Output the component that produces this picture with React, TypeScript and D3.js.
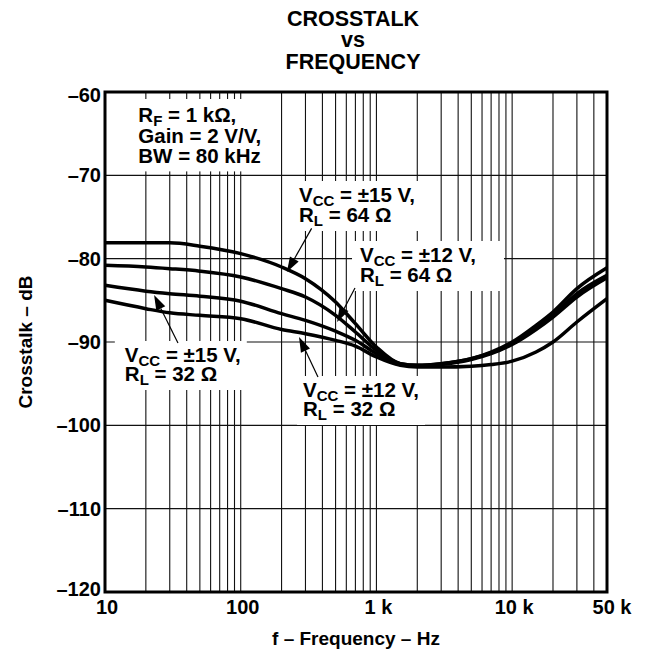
import React, { useEffect, useRef } from 'react';
import * as d3 from 'd3';

// frequency points (Hz)
const freqs = [10, 20, 30, 50, 100, 200, 300, 500, 700, 1000, 1500, 2000, 3000, 5000, 7000, 10000, 15000, 20000, 30000, 50000];

// crosstalk (dB) per supply / load
const vcc15rl64 = [-78.1, -78.1, -78.1, -78.5, -79.4, -81.0, -82.4, -85.2, -87.8, -90.6, -92.6, -92.8, -92.6, -92.0, -91.2, -90.0, -88.0, -86.4, -83.6, -81.1];
const vcc12rl64 = [-80.8, -81.0, -81.2, -81.5, -82.2, -83.6, -84.6, -86.8, -88.8, -91.0, -92.6, -92.8, -92.6, -92.0, -91.3, -90.2, -88.3, -86.8, -84.2, -82.0];
const vcc15rl32 = [-83.2, -83.9, -84.2, -84.5, -85.1, -86.6, -87.4, -88.7, -89.8, -91.4, -92.7, -92.9, -92.7, -92.1, -91.4, -90.3, -88.5, -87.0, -84.6, -82.3];
const vcc12rl32 = [-85.0, -86.0, -86.5, -86.8, -87.2, -88.5, -89.0, -89.8, -90.5, -91.8, -92.8, -93.0, -93.0, -92.9, -92.7, -92.3, -91.2, -90.0, -87.6, -84.8];

const yTicks = [-60, -70, -80, -90, -100, -110, -120];
const xTickValues = [10, 100, 1000, 10000, 50000];
const xTickLabels = ['10', '100', '1 k', '10 k', '50 k'];

const FONT = "'Liberation Sans', Arial, Helvetica, sans-serif";

const App = () => {
  const chartRef = useRef(null);

  useEffect(() => {
    if (!chartRef.current) return;
    d3.select(chartRef.current).selectAll('*').remove();

    const width = 646;
    const height = 654;
    const margin = { top: 92, right: 39, bottom: 62, left: 105 };
    const innerW = width - margin.left - margin.right;
    const innerH = height - margin.top - margin.bottom;

    const x = d3.scaleLog().domain([10, 50000]).range([margin.left, margin.left + innerW]);
    const y = d3.scaleLinear().domain([-120, -60]).range([margin.top + innerH, margin.top]);

    const svg = d3.select(chartRef.current)
      .append('svg')
      .attr('width', width)
      .attr('height', height)
      .style('display', 'block')
      .style('background', 'white')
      .style('font-family', FONT)
      .style('font-weight', 'bold');

    // grid: every 1-2-3..9 step in each decade
    const gridFreqs = [];
    for (let dec = 10; dec < 50000; dec *= 10) {
      for (let k = 1; k < 10; k++) {
        const f = dec * k;
        if (f > 10 && f < 50000) gridFreqs.push(f);
      }
    }
    svg.append('g')
      .selectAll('line')
      .data(gridFreqs)
      .enter()
      .append('line')
      .attr('x1', d => x(d))
      .attr('x2', d => x(d))
      .attr('y1', y(-60))
      .attr('y2', y(-120))
      .style('stroke', '#111')
      .style('stroke-width', 1.1);

    svg.append('g')
      .selectAll('line')
      .data(yTicks.slice(1, -1))
      .enter()
      .append('line')
      .attr('x1', x(10))
      .attr('x2', x(50000))
      .attr('y1', d => y(d))
      .attr('y2', d => y(d))
      .style('stroke', '#111')
      .style('stroke-width', 1.1);

    // curves
    const series = [vcc15rl64, vcc12rl64, vcc15rl32, vcc12rl32];
    const line = d3.line()
      .x(d => x(d[0]))
      .y(d => y(d[1]))
      .curve(d3.curveMonotoneX);
    series.forEach(vals => {
      svg.append('path')
        .attr('d', line(freqs.map((f, i) => [f, vals[i]])))
        .style('fill', 'none')
        .style('stroke', 'black')
        .style('stroke-width', 3.5);
    });

    // border
    svg.append('rect')
      .attr('x', x(10))
      .attr('y', y(-60))
      .attr('width', x(50000) - x(10))
      .attr('height', y(-120) - y(-60))
      .style('fill', 'none')
      .style('stroke', 'black')
      .style('stroke-width', 3);

    // annotation boxes with white backing
    const drawLabel = (fx, db, lines, lineH, pad) => {
      const g = svg.append('g');
      const bg = g.append('rect').style('fill', 'white');
      lines.forEach((segs, li) => {
        const t = g.append('text')
          .attr('x', x(fx))
          .attr('y', y(db) + li * lineH)
          .style('font-size', '20.5px');
        let shifted = false;
        segs.forEach(([s, sub]) => {
          const ts = t.append('tspan').text(s);
          if (sub && !shifted) {
            ts.attr('dy', 4).style('font-size', '15px');
            shifted = true;
          } else if (!sub && shifted) {
            ts.attr('dy', -4);
            shifted = false;
          }
        });
      });
      const bb = g.node().getBBox();
      bg.attr('x', bb.x - pad[3])
        .attr('y', bb.y - pad[0])
        .attr('width', bb.width + pad[1] + pad[3])
        .attr('height', bb.height + pad[0] + pad[2]);
    };

    drawLabel(17.6, -63.6, [
      [['R', false], ['F', true], [' = 1 kΩ,', false]],
      [['Gain = 2 V/V,', false]],
      [['BW = 80 kHz', false]]
    ], 20.7, [4, 6, 4, 6]);

    drawLabel(269, -73.2, [
      [['V', false], ['CC', true], [' = ±15 V,', false]],
      [['R', false], ['L', true], [' = 64 Ω', false]]
    ], 20, [2, 24, 2, 5]);

    drawLabel(757, -80.4, [
      [['V', false], ['CC', true], [' = ±12 V,', false]],
      [['R', false], ['L', true], [' = 64 Ω', false]]
    ], 20, [2, 28, 2, 8]);

    drawLabel(14.0, -92.4, [
      [['V', false], ['CC', true], [' = ±15 V,', false]],
      [['R', false], ['L', true], [' = 32 Ω', false]]
    ], 19, [2, 6, 2, 10]);

    drawLabel(288, -96.6, [
      [['V', false], ['CC', true], [' = ±12 V,', false]],
      [['R', false], ['L', true], [' = 32 Ω', false]]
    ], 19, [2, 6, 2, 6]);

    // arrows: [from f, from dB, tip f, tip dB]
    const arrows = [
      [333, -76.36, 219, -81.6],
      [695, -83.52, 513, -87.6],
      [34.5, -90.12, 23.0, -84.36],
      [371, -94.2, 269, -89.4]
    ];
    arrows.forEach(([f1, d1, f2, d2]) => {
      const x1 = x(f1), y1 = y(d1), x2 = x(f2), y2 = y(d2);
      const len = Math.hypot(x2 - x1, y2 - y1);
      const ux = (x2 - x1) / len, uy = (y2 - y1) / len;
      const L = 15, W = 10;
      const bx = x2 - ux * L, by = y2 - uy * L;
      svg.append('line')
        .attr('x1', x1).attr('y1', y1).attr('x2', bx).attr('y2', by)
        .style('stroke', 'black').style('stroke-width', 1.2);
      svg.append('polygon')
        .attr('points', `${x2},${y2} ${bx - uy * W / 2},${by + ux * W / 2} ${bx + uy * W / 2},${by - ux * W / 2}`)
        .style('fill', 'black');
    });

    // y tick labels
    svg.append('g')
      .selectAll('text')
      .data(yTicks)
      .enter()
      .append('text')
      .attr('x', x(10) - 4)
      .attr('y', d => y(d) + (d === -60 ? 10 : d === -120 ? 4 : 7))
      .style('text-anchor', 'end')
      .style('font-size', '20px')
      .text(d => `–${Math.abs(d)}`);

    // x tick labels
    svg.append('g')
      .selectAll('text')
      .data(xTickValues)
      .enter()
      .append('text')
      .attr('x', (d, i) => x(d) + (i === xTickValues.length - 1 ? 5 : 2))
      .attr('y', y(-120) + 22)
      .style('text-anchor', 'middle')
      .style('font-size', '20px')
      .text((d, i) => xTickLabels[i]);

    // axis titles
    svg.append('text')
      .attr('x', (x(10) + x(50000)) / 2)
      .attr('y', 645)
      .style('text-anchor', 'middle')
      .style('font-size', '19px')
      .text('f – Frequency – Hz');

    svg.append('text')
      .attr('transform', `translate(32, ${(y(-60) + y(-120)) / 2}) rotate(-90)`)
      .style('text-anchor', 'middle')
      .style('font-size', '19px')
      .text('Crosstalk – dB');

    // title
    const title = ['CROSSTALK', 'vs', 'FREQUENCY'];
    svg.append('g')
      .selectAll('text')
      .data(title)
      .enter()
      .append('text')
      .attr('x', (x(10) + x(50000)) / 2 - 3)
      .attr('y', (d, i) => 25.5 + i * 21.6)
      .style('text-anchor', 'middle')
      .style('font-size', '21.5px')
      .text(d => d);
  }, []);

  return (
    <div style={{ position: 'absolute', left: 0, top: 0 }}>
      <div ref={chartRef} style={{ width: 646, height: 654 }} />
    </div>
  );
};

export default App;
